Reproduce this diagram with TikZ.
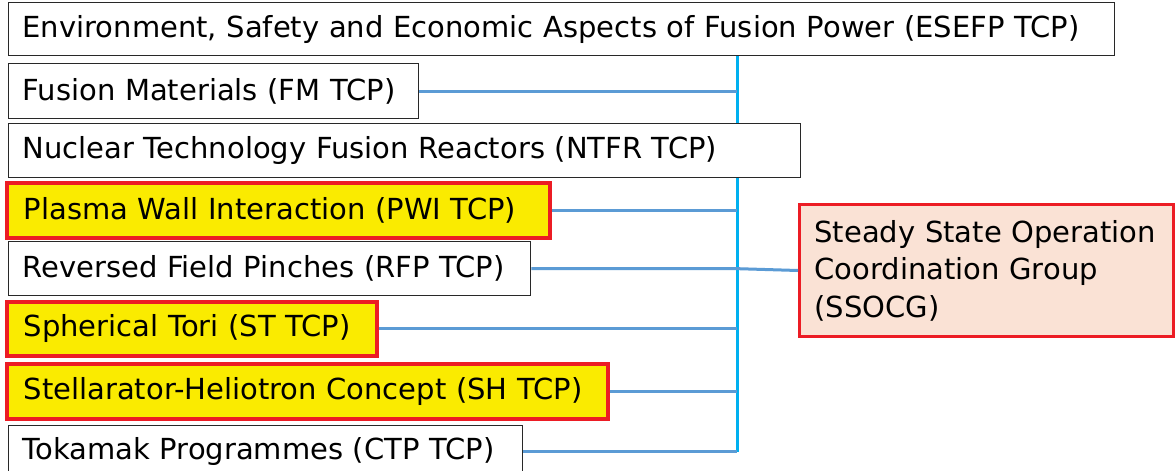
\documentclass[tikz,border=0pt]{standalone}
\usepackage{fontspec}
\setmainfont{DejaVu Sans}
\definecolor{busblue}{RGB}{0,176,240}
\definecolor{linkblue}{RGB}{91,155,213}
\definecolor{hlred}{RGB}{236,28,36}
\definecolor{hlyellow}{RGB}{250,235,0}
\definecolor{peach}{RGB}{250,226,213}
\definecolor{edge}{RGB}{40,40,40}
\tikzset{
  plainbox/.style={draw=edge, line width=1.3pt, fill=white, anchor=north west,
    inner xsep=14pt, inner ysep=0pt, align=left,
    font=\fontsize{29}{37.5}\selectfont},
  hlbox/.style={draw=hlred, line width=3.5pt, fill=hlyellow, anchor=north west,
    inner xsep=17pt, inner ysep=0pt, align=left,
    font=\fontsize{29}{37.5}\selectfont},
  link/.style={draw=linkblue, line width=3pt},
  bus/.style={draw=busblue, line width=3pt}
}
\begin{document}
\begin{tikzpicture}[x=1pt,y=-1pt]
\useasboundingbox[fill=white] (0,0) rectangle (1175,471);
% bus
\coordinate (bustop) at (737,55);
\coordinate (busbot) at (737,452);
\draw[bus] (bustop) -- (busbot);
% boxes
\node[plainbox, text width=1078pt, minimum height=53pt] (esefp) at (8,2) {\mbox{Environment, Safety and Economic Aspects of Fusion Power (ESEFP TCP)}};
\node[plainbox, text width=382pt, minimum height=55pt] (fm) at (8,63) {\mbox{Fusion Materials (FM TCP)}};
\node[plainbox, text width=764pt, minimum height=54pt] (ntfr) at (8,123) {\mbox{Nuclear Technology Fusion Reactors (NTFR TCP)}};
\node[hlbox, text width=509pt, minimum height=55pt] (pwi) at (5,181) {\mbox{Plasma Wall Interaction (PWI TCP)}};
\node[plainbox, text width=494pt, minimum height=54pt] (rfp) at (8,241) {\mbox{Reversed Field Pinches (RFP TCP)}};
\node[hlbox, text width=336pt, minimum height=54pt] (st) at (5,300) {\mbox{Spherical Tori (ST TCP)}};
\node[hlbox, text width=567pt, minimum height=55pt] (sh) at (5,362) {\mbox{Stellarator-Heliotron Concept (SH TCP)}};
\node[plainbox, text width=486pt, minimum height=52pt] (ctp) at (8,425) {\mbox{Tokamak Programmes (CTP TCP)}};
\node[draw=hlred, line width=3pt, fill=peach, anchor=north west, inner xsep=15pt, inner ysep=0pt,
  text width=344pt, minimum height=132pt, align=left,
  font=\fontsize{29}{37.5}\selectfont] (ssocg) at (798,203)
  {Steady State Operation\\Coordination Group\\(SSOCG)};
% links
\draw[link] (fm.east) -- (fm.east -| bustop);
\draw[link] (pwi.east) -- (pwi.east -| bustop);
\draw[link] (rfp.east) -- (rfp.east -| bustop) -- (ssocg.west);
\draw[link] (st.east) -- (st.east -| bustop);
\draw[link] (sh.east) -- (sh.east -| bustop);
\draw[link] (ctp.east) -- (ctp.east -| bustop);
\end{tikzpicture}
\end{document}
